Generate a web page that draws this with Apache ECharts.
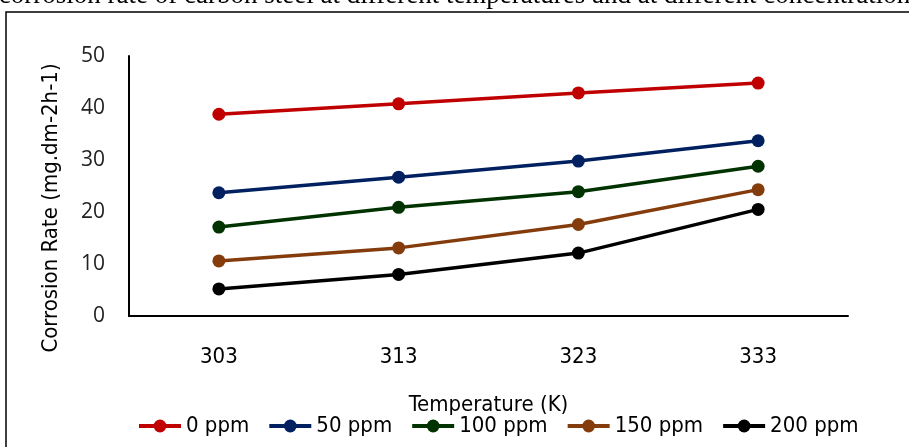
<!DOCTYPE html>
<html><head><meta charset="utf-8">
<script src="https://cdn.jsdelivr.net/npm/echarts@6/dist/echarts.min.js"></script>
<style>html,body{margin:0;padding:0;background:#fff}#c{width:909px;height:447px}</style>
</head><body><div id="c"></div>
<script>
const categories = ['303', '313', '323', '333'];
const seriesNames = ['0 ppm', '50 ppm', '100 ppm', '150 ppm', '200 ppm'];
const s0 = [38.8, 40.8, 42.9, 44.8];
const s50 = [23.7, 26.7, 29.8, 33.7];
const s100 = [17.1, 20.9, 23.9, 28.8];
const s150 = [10.6, 13.1, 17.6, 24.3];
const s200 = [5.2, 8.0, 12.1, 20.5];
const colors = ['#C00000', '#002060', '#003300', '#843C0C', '#000000'];
const titleText = 'corrosion rate of carbon steel at different temperatures and at different concentration';
const yAxisTitle = 'Corrosion Rate (mg.dm-2h-1)';

const font = '"Liberation Sans Narrow", "DejaVu Sans Condensed", "Roboto Condensed", "Liberation Sans", sans-serif';
const chart = echarts.init(document.getElementById('c'));
const data = [s0, s50, s100, s150, s200];
chart.setOption({
  animation: false,
  backgroundColor: '#fff',
  graphic: [
    { type: 'rect', shape: { x: 6, y: 12, width: 920, height: 460 },
      style: { fill: 'none', stroke: '#000', lineWidth: 1.5 } },
    { type: 'text', left: 'center', top: -18,
      style: { text: titleText, font: '27px "Liberation Serif", "Times New Roman", serif', fill: '#000' } },
    { type: 'text', x: 51, y: 208, rotation: Math.PI / 2,
      style: { text: yAxisTitle, fontFamily: font, fontSize: 22, fill: '#000', align: 'center', verticalAlign: 'middle' } }
  ],
  grid: { left: 129, right: 61, top: 56, bottom: 131, containLabel: false },
  legend: {
    data: seriesNames, bottom: 5, left: 132, itemWidth: 42, itemHeight: 16, itemGap: 18,
    lineStyle: { width: 4 },
    textStyle: { fontFamily: font, fontSize: 22, color: '#000' }
  },
  xAxis: {
    type: 'category', data: categories, boundaryGap: true,
    name: 'Temperature (K)', nameLocation: 'middle', nameGap: 78,
    nameTextStyle: { fontFamily: font, fontSize: 22, color: '#000' },
    axisLine: { lineStyle: { color: '#000', width: 2 } },
    axisTick: { show: false },
    axisLabel: { fontFamily: font, fontSize: 22, color: '#000', margin: 30 }
  },
  yAxis: {
    type: 'value', min: 0, max: 50, interval: 10,
    axisLine: { show: true, lineStyle: { color: '#000', width: 2 } },
    axisTick: { show: false }, splitLine: { show: false },
    axisLabel: { fontFamily: '"Open Sans", "Noto Sans", sans-serif', fontSize: 21, color: '#222', margin: 24 }
  },
  series: data.map((d, i) => ({
    name: seriesNames[i], type: 'line', data: d,
    symbol: 'circle', symbolSize: 13,
    lineStyle: { color: colors[i], width: 3.5 },
    itemStyle: { color: colors[i] }
  }))
});
</script></body></html>
